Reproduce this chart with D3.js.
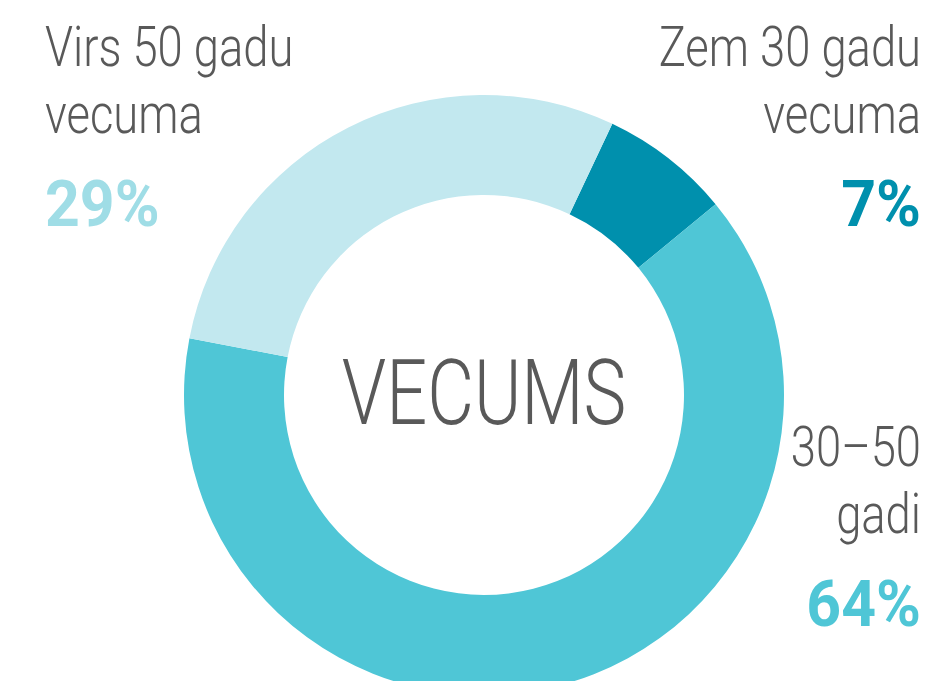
<!DOCTYPE html>
<html>
<head>
<meta charset="utf-8">
<script src="https://cdn.jsdelivr.net/npm/d3@7"></script>
<style>
  html, body { margin: 0; padding: 0; background: #fff; }
  svg { display: block; }
  text { font-family: Roboto, "Liberation Sans Narrow", sans-serif; }
</style>
</head>
<body>
<div id="chart"></div>
<script>
// data
const categories = ["Zem 30 gadu vecuma", "30–50 gadi", "Virs 50 gadu vecuma"];
const values = [7, 64, 29];
const labelLines = [["Zem 30 gadu", "vecuma"], ["30–50", "gadi"], ["Virs 50 gadu", "vecuma"]];
const sliceColors = ["#0090ad", "#4fc6d6", "#c2e8ef"];
const pctColors = ["#0090ad", "#4fc6d6", "#9fdde6"];
const centerTitle = "VECUMS";

const width = 934, height = 681;
const cx = 484, cy = 395;
const outerR = 300, innerR = 200;
const textGrey = "#595959";
const squeeze = 0.81;    // light labels
const squeezeBold = 0.95; // percentages

const svg = d3.select("#chart")
  .append("svg")
  .attr("width", width)
  .attr("height", height)
  .attr("viewBox", [0, 0, width, height]);

const data = categories.map((c, i) => ({ name: c, value: values[i], i: i }));

const pie = d3.pie()
  .value(d => d.value)
  .sort(null)
  .startAngle(0.442)
  .endAngle(0.442 + 2 * Math.PI);

const arc = d3.arc()
  .innerRadius(innerR)
  .outerRadius(outerR);

svg.append("g")
  .attr("transform", `translate(${cx},${cy})`)
  .selectAll("path")
  .data(pie(data))
  .join("path")
  .attr("d", arc)
  .attr("fill", d => sliceColors[d.data.i]);

// center title
svg.append("text")
  .attr("transform", `translate(${cx},424) scale(0.8,1)`)
  .attr("text-anchor", "middle")
  .attr("font-size", 90)
  .attr("font-weight", 300)
  .attr("fill", textGrey)
  .text(centerTitle);

// label blocks: x, anchor, first baseline
const blocks = [
  { x: 921, anchor: "end", y: 66 },
  { x: 921, anchor: "end", y: 466 },
  { x: 45, anchor: "start", y: 66 }
];

blocks.forEach((b, i) => {
  const g = svg.append("g")
    .attr("transform", `translate(${b.x},0) scale(${squeeze},1)`);
  labelLines[i].forEach((line, j) => {
    g.append("text")
      .attr("x", 0)
      .attr("y", b.y + j * 67)
      .attr("text-anchor", b.anchor)
      .attr("font-size", 56)
      .attr("font-weight", 300)
      .attr("fill", textGrey)
      .text(line);
  });
  svg.append("text")
    .attr("transform", `translate(${b.x},${b.y + 160}) scale(${squeezeBold},1)`)
    .attr("text-anchor", b.anchor)
    .attr("font-size", 64)
    .attr("font-weight", 700)
    .attr("fill", pctColors[i])
    .text(values[i] + "%");
});
</script>
</body>
</html>
